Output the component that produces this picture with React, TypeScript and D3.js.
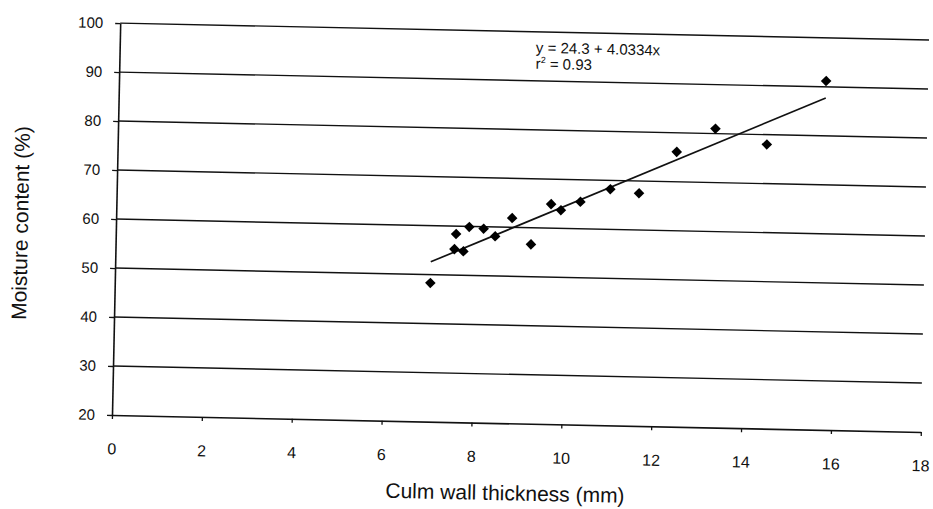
import React, { useRef, useEffect } from "react";
import * as d3 from "d3";

// culm wall thickness (mm) and moisture content (%) of each sample
const thickness = [7.02, 7.57, 7.54, 7.74, 7.86, 8.18, 8.44, 8.81, 9.24, 9.67, 9.89, 10.32, 10.98, 11.62, 12.44, 13.29, 14.44, 15.73];
const moisture = [48.3, 58.4, 55.3, 54.9, 59.9, 59.6, 58.1, 61.9, 56.6, 64.9, 63.7, 65.5, 68.2, 67.5, 76.1, 81.0, 78.0, 91.2];

const xTicks = [0, 2, 4, 6, 8, 10, 12, 14, 16, 18];
const yTicks = [20, 30, 40, 50, 60, 70, 80, 90, 100];

// fitted line as printed on the chart
const intercept = 24.3;
const slope = 4.0334;
const equationText = "y = 24.3 + 4.0334x";
const r2Value = "0.93";

const xTitle = "Culm wall thickness (mm)";
const yTitle = "Moisture content (%)";

const width = 933;
const height = 509;
const margin = { left: 112, top: 23 };
const plotW = 809;
const plotH = 392;
const tilt = 1.2; // the scanned page is slightly rotated

const font = "'Liberation Sans', Arial, sans-serif";

const App = () => {
  const svgRef = useRef(null);

  useEffect(() => {
    const svg = d3.select(svgRef.current);
    svg.selectAll("*").remove();

    const xScale = d3.scaleLinear().domain([0, 18]).range([0, plotW]);
    const yScale = d3.scaleLinear().domain([20, 100]).range([plotH, 0]);

    const g = svg
      .append("g")
      .attr(
        "transform",
        `rotate(${tilt},${margin.left},${margin.top + plotH}) translate(${margin.left},${margin.top})`
      );

    // horizontal gridlines
    g.selectAll(".grid")
      .data(yTicks.filter(d => d > 20))
      .join("line")
      .attr("class", "grid")
      .attr("x1", 0)
      .attr("x2", plotW)
      .attr("y1", d => yScale(d))
      .attr("y2", d => yScale(d))
      .attr("stroke", "#111")
      .attr("stroke-width", 1.4);

    const xAxis = d3.axisBottom(xScale).tickValues(xTicks).tickSize(4).tickSizeOuter(0).tickPadding(24);
    const gx = g
      .append("g")
      .attr("transform", `translate(0,${plotH})`)
      .call(xAxis);
    gx.select(".domain").attr("stroke", "#111").attr("stroke-width", 1.6);
    gx.selectAll(".tick line").attr("stroke", "#111").attr("stroke-width", 1.3);
    gx.selectAll(".tick text")
      .attr("fill", "#111")
      .style("font-family", font)
      .style("font-size", "16px");

    const yAxis = d3.axisLeft(yScale).tickValues(yTicks).tickSize(5).tickSizeOuter(0).tickPadding(12);
    const gy = g.append("g").call(yAxis);
    gy.select(".domain").attr("stroke", "#111").attr("stroke-width", 1.6);
    gy.selectAll(".tick line").attr("stroke", "#111").attr("stroke-width", 1.3);
    gy.selectAll(".tick text")
      .attr("fill", "#111")
      .style("font-family", font)
      .style("font-size", "15px");

    // regression line between smallest and largest thickness
    const [xMin, xMax] = d3.extent(thickness);
    const line = d3
      .line()
      .x(d => xScale(d))
      .y(d => yScale(intercept + slope * d));
    g.append("path")
      .datum([xMin, xMax])
      .attr("d", line)
      .attr("fill", "none")
      .attr("stroke", "#111")
      .attr("stroke-width", 1.7);

    // points
    const diamond = d3.symbol().type(d3.symbolSquare).size(56);
    g.selectAll(".pt")
      .data(thickness.map((t, i) => [t, moisture[i]]))
      .join("path")
      .attr("class", "pt")
      .attr("d", diamond)
      .attr("transform", d => `translate(${xScale(d[0])},${yScale(d[1])}) rotate(45)`)
      .attr("fill", "#000");

    // equation label
    const eq = g
      .append("text")
      .attr("x", xScale(9.26))
      .attr("y", yScale(95.7))
      .style("font-family", font)
      .style("font-size", "15px")
      .attr("fill", "#111");
    eq.append("tspan").text(equationText);
    const r2 = eq.append("tspan").attr("x", xScale(9.26)).attr("dy", 16).text("r");
    r2.append("tspan").attr("dy", -6).style("font-size", "9px").text("2");
    eq.append("tspan").attr("dy", 6).text(` = ${r2Value}`);

    // axis titles
    g.append("text")
      .attr("x", plotW / 2 - 10)
      .attr("y", plotH + 77)
      .attr("text-anchor", "middle")
      .style("font-family", font)
      .style("font-size", "21px")
      .attr("fill", "#111")
      .text(xTitle);

    g.append("text")
      .attr("transform", `translate(-88,${plotH / 2 + 6}) rotate(-90)`)
      .attr("text-anchor", "middle")
      .style("font-family", font)
      .style("font-size", "21px")
      .attr("fill", "#111")
      .text(yTitle);
  }, []);

  return (
    <div style={{ position: "fixed", left: 0, top: 0, width, height, background: "#fff" }}>
      <svg ref={svgRef} width={width} height={height} style={{ display: "block" }} />
    </div>
  );
};

export default App;
